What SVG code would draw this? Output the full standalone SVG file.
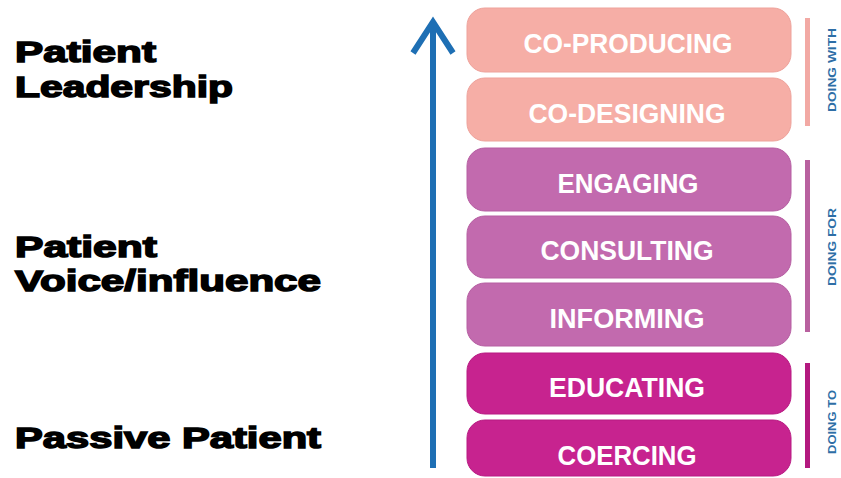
<svg xmlns="http://www.w3.org/2000/svg" width="841" height="478" viewBox="0 0 841 478">
  <style>
    .side { font-family: "Liberation Sans", Arial, sans-serif; font-weight: bold; font-size: 30px; fill: #000; stroke: #000; stroke-width: 1.5px; }
    .box-text { font-family: "Liberation Sans", Arial, sans-serif; font-weight: bold; font-size: 27px; fill: #fff; text-anchor: middle; }
    .with { fill: #f6aea6; stroke: #eea29b; stroke-width: 1; }
    .for { fill: #c26aae; stroke: #b65ea2; stroke-width: 1; }
    .to { fill: #c7238f; stroke: #b81a82; stroke-width: 1; }
    .grp { font-family: "Liberation Sans", Arial, sans-serif; font-weight: bold; font-size: 11px; fill: #2e6ea6; text-anchor: middle; }
  </style>
  <rect width="841" height="478" fill="#ffffff"/>

  <g id="label-leadership">
    <text class="side" x="15" y="62" textLength="141" lengthAdjust="spacingAndGlyphs">Patient</text>
    <text class="side" x="15" y="97" textLength="218" lengthAdjust="spacingAndGlyphs">Leadership</text>
  </g>
  <g id="label-voice">
    <text class="side" x="15" y="257" textLength="142" lengthAdjust="spacingAndGlyphs">Patient</text>
    <text class="side" x="15" y="291" textLength="306" lengthAdjust="spacingAndGlyphs">Voice/influence</text>
  </g>
  <g id="label-passive">
    <text class="side" x="15" y="448" textLength="306" lengthAdjust="spacingAndGlyphs">Passive Patient</text>
  </g>

  <g id="connectors">
    <line x1="433" y1="24" x2="433" y2="468" stroke="#1e6fb4" stroke-width="6"/>
    <polyline points="413,53 433,22 453,53" fill="none" stroke="#1e6fb4" stroke-width="6" stroke-linejoin="miter"/>
  </g>

  <g id="co-producing">
    <rect class="with" x="467" y="8" width="324" height="64" rx="18"/>
    <text class="box-text" x="628" y="53" textLength="209" lengthAdjust="spacingAndGlyphs">CO-PRODUCING</text>
  </g>
  <g id="co-designing">
    <rect class="with" x="467" y="78" width="324" height="63" rx="18"/>
    <text class="box-text" x="627" y="123" textLength="197" lengthAdjust="spacingAndGlyphs">CO-DESIGNING</text>
  </g>
  <g id="engaging">
    <rect class="for" x="467" y="148" width="324" height="63" rx="18"/>
    <text class="box-text" x="628" y="193" textLength="141" lengthAdjust="spacingAndGlyphs">ENGAGING</text>
  </g>
  <g id="consulting">
    <rect class="for" x="467" y="216" width="324" height="62" rx="18"/>
    <text class="box-text" x="627" y="260" textLength="173" lengthAdjust="spacingAndGlyphs">CONSULTING</text>
  </g>
  <g id="informing">
    <rect class="for" x="467" y="283" width="324" height="63" rx="18"/>
    <text class="box-text" x="627" y="328" textLength="155" lengthAdjust="spacingAndGlyphs">INFORMING</text>
  </g>
  <g id="educating">
    <rect class="to" x="467" y="353" width="324" height="61" rx="18"/>
    <text class="box-text" x="627" y="397" textLength="156" lengthAdjust="spacingAndGlyphs">EDUCATING</text>
  </g>
  <g id="coercing">
    <rect class="to" x="467" y="420" width="324" height="56" rx="18"/>
    <text class="box-text" x="627" y="465" textLength="139" lengthAdjust="spacingAndGlyphs">COERCING</text>
  </g>

  <g id="doing-with">
    <rect x="805" y="18" width="5" height="108" fill="#f2a9a4"/>
    <text class="grp" transform="translate(836,70) rotate(-90)" textLength="84" lengthAdjust="spacingAndGlyphs">DOING WITH</text>
  </g>
  <g id="doing-for">
    <rect x="805" y="160" width="5" height="172" fill="#b8619f"/>
    <text class="grp" transform="translate(836,247) rotate(-90)" textLength="78" lengthAdjust="spacingAndGlyphs">DOING FOR</text>
  </g>
  <g id="doing-to">
    <rect x="805" y="363" width="5" height="105" fill="#b3197f"/>
    <text class="grp" transform="translate(836,422) rotate(-90)" textLength="64" lengthAdjust="spacingAndGlyphs">DOING TO</text>
  </g>
</svg>
